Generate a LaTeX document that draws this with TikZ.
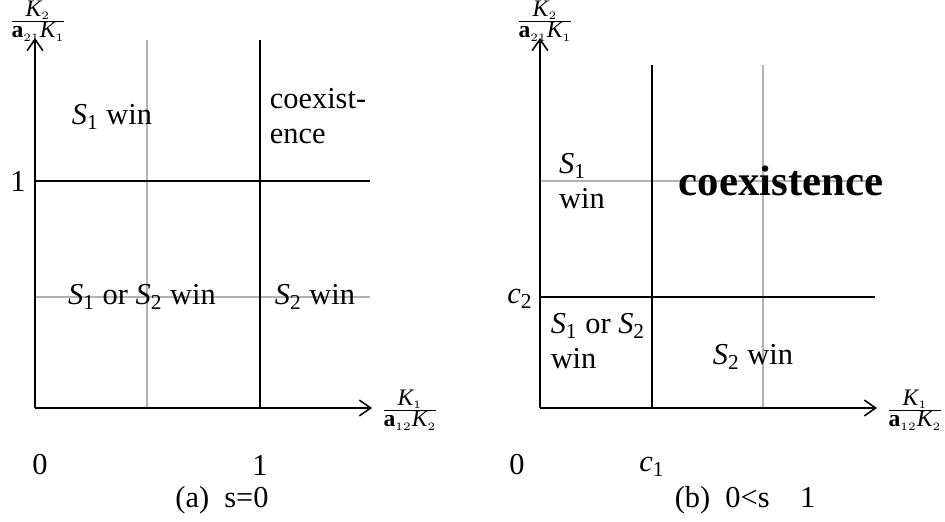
\documentclass[tikz,border=0pt,12pt]{standalone}
\usepackage{fontspec}
\setmainfont{Liberation Serif}
\usetikzlibrary{arrows.meta, positioning}

\newcommand{\Sn}[1]{\textit{S}\textsubscript{#1}}
\newcommand{\ratio}[3]{$\scriptstyle\frac{\textit{K}_{\scriptscriptstyle #1}}{\textbf{a}_{\scriptscriptstyle #2}\textit{K}_{\scriptscriptstyle #3}}$}

\begin{document}
\begin{tikzpicture}[
    x=0.444pt, y=-0.444pt,
    axis/.style={line width=0.7pt, -{Straight Barb[length=5pt, width=7pt]}},
    border/.style={line width=0.9pt, black},
    guide/.style={line width=0.9pt, black!30},
    lbl/.style={font=\fontsize{13.5}{15.5}\selectfont, inner sep=1pt},
    frac/.style={font=\fontsize{10.5}{12}\selectfont, inner sep=0pt}
  ]
  \useasboundingbox (0,0) rectangle (945,522);

  % (a) s = 0
  \coordinate (oa) at (35,408);
  \coordinate (xa) at (372,408);
  \coordinate (ya) at (35,38);
  \draw[guide] (147,40) -- (147,408);
  \draw[guide] (35,297) -- (370,297);
  \draw[border] (260,40) -- (260,408);
  \draw[border] (35,181) -- (370,181);
  \draw[axis] (oa) -- (xa);
  \draw[axis] (oa) -- (ya);
  \node[frac] (fxa) at (410,410) {\ratio{1}{12}{2}};
  \node[frac] (fya) at (38,21) {\ratio{2}{21}{1}};
  \node[lbl] (za) at (40,465) {0};
  \node[lbl] (oxa) at (260,465) {1};
  \node[lbl] (oya) at (18,181) {1};
  \node[lbl] (wa1) at (112,117) {\Sn{1} win};
  \node[lbl, align=left] (coa) at (318,116) {coexist-\\ence};
  \node[lbl] (wa12) at (142,297) {\Sn{1} or \Sn{2} win};
  \node[lbl] (wa2) at (315,297) {\Sn{2} win};
  \node[lbl] (capa) at (222,500) {(a)\enspace s=0};

  % (b) 0 < s <= 1
  \coordinate (ob) at (540,408);
  \coordinate (xb) at (877,408);
  \coordinate (yb) at (540,38);
  \draw[guide] (763,65) -- (763,408);
  \draw[guide] (540,181) -- (878,181);
  \draw[border] (652,65) -- (652,408);
  \draw[border] (540,297) -- (875,297);
  \draw[axis] (ob) -- (xb);
  \draw[axis] (ob) -- (yb);
  \node[frac] (fxb) at (915,410) {\ratio{1}{12}{2}};
  \node[frac] (fyb) at (545,21) {\ratio{2}{21}{1}};
  \node[lbl] (zb) at (517,465) {0};
  \node[lbl] (c1) at (652,467) {\textit{c}\textsubscript{1}};
  \node[lbl] (c2) at (520,299) {\textit{c}\textsubscript{2}};
  \node[lbl, align=left] (wb1) at (582,181) {\Sn{1}\\win};
  \node[lbl, font=\fontsize{19}{22}\selectfont\bfseries] (cob) at (781,181) {coexistence};
  \node[lbl, align=left] (wb12) at (598,341) {\Sn{1} or \Sn{2}\\win};
  \node[lbl] (wb2) at (753,357) {\Sn{2} win};
  \node[lbl] (capb) at (745,500) {(b)\enspace 0<s\quad 1};
\end{tikzpicture}
\end{document}
